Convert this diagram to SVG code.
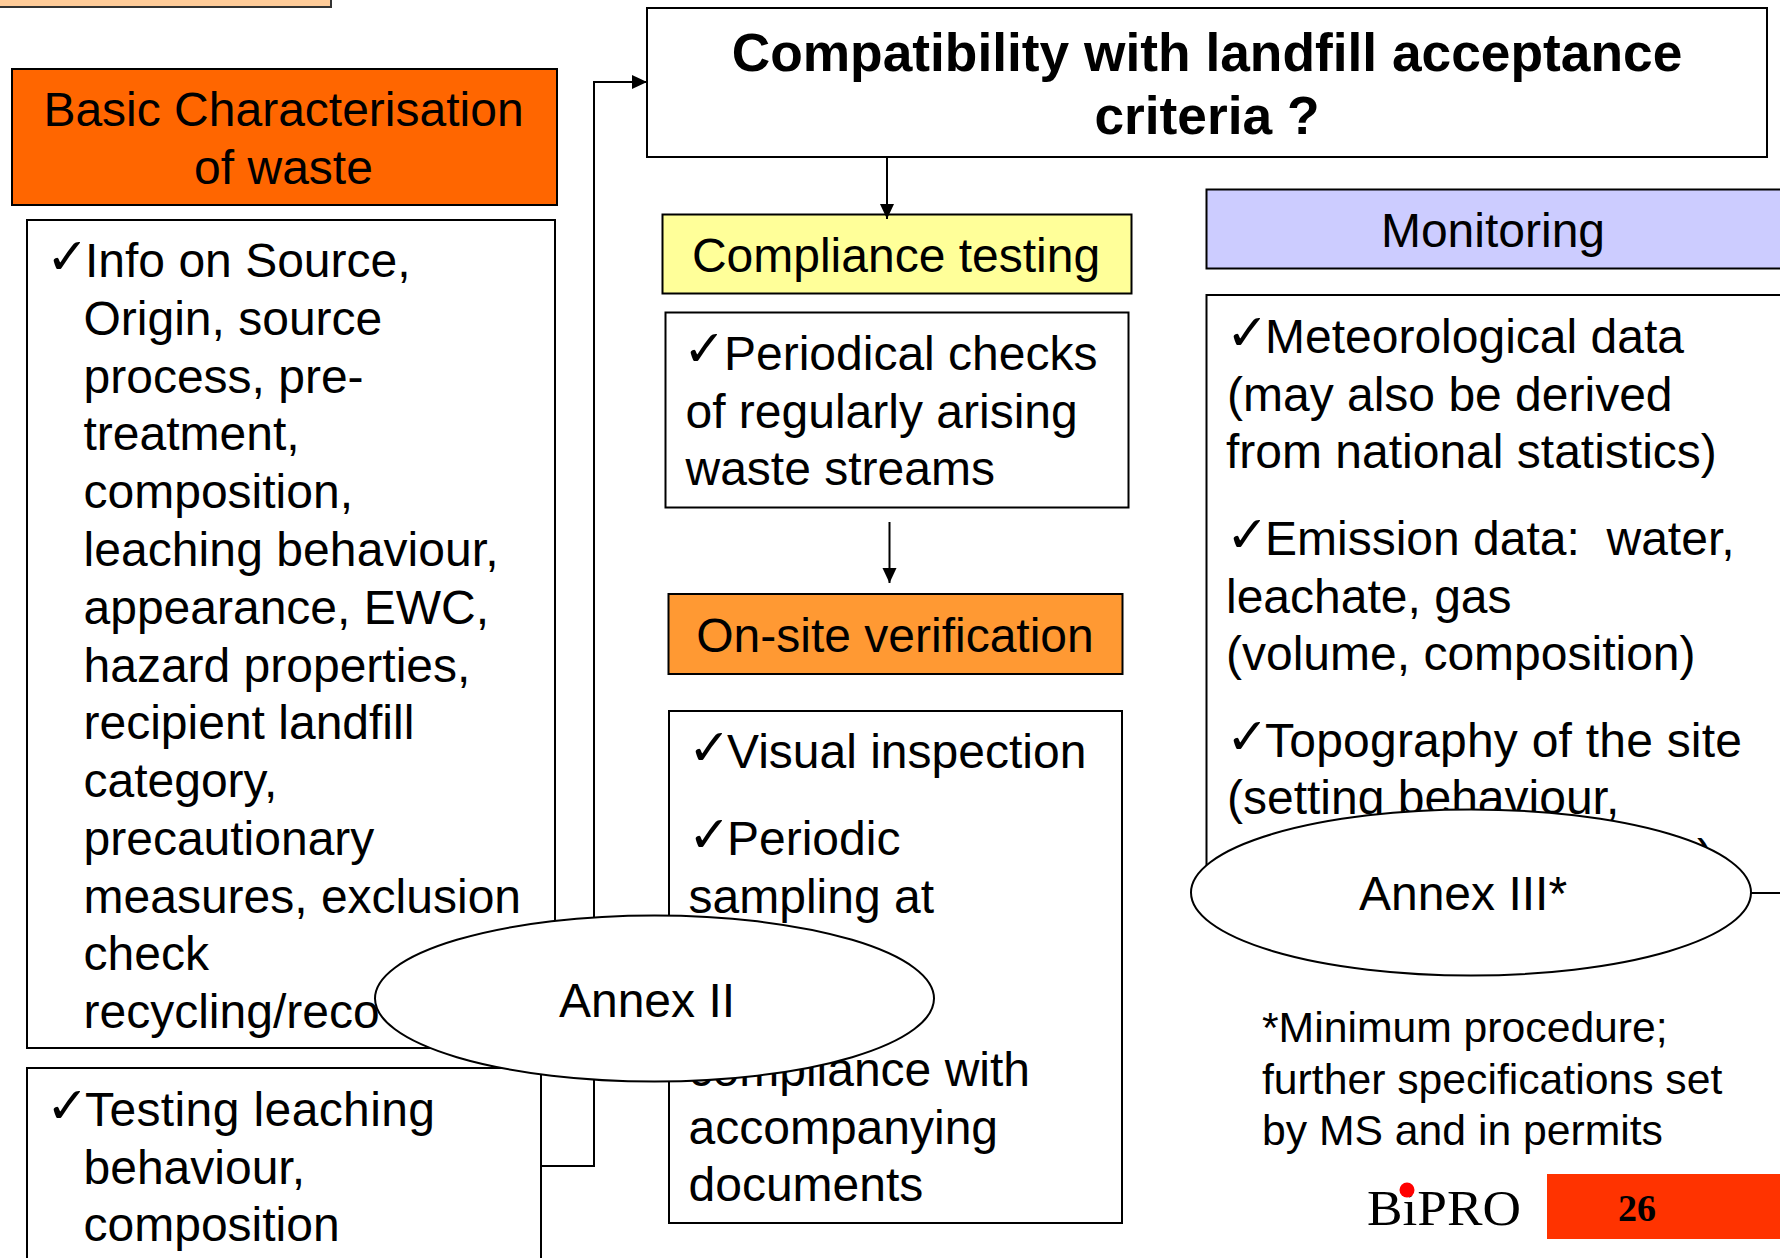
<svg xmlns="http://www.w3.org/2000/svg" width="1780" height="1258" viewBox="0 0 1780 1258">
<style>
text{font-family:"Liberation Sans",Arial,sans-serif;font-size:48px;fill:#000}
.c{text-anchor:middle}
.b{stroke:#000;stroke-width:2;fill:#fff}
.l{stroke:#000;stroke-width:2;fill:none}
.k{font-family:"DejaVu Sans",sans-serif;font-size:51px}
.t{font-weight:bold;font-size:53.3px}
.f{font-size:42.7px}
</style>
<defs><marker id="a" markerUnits="userSpaceOnUse" markerWidth="16" markerHeight="16" refX="15" refY="7" orient="auto"><path d="M0 0L15 7L0 14Z" fill="#000"/></marker></defs>
<rect width="1780" height="1258" fill="#fff"/>
<g id="top-box"><rect x="-5" y="-10" width="336" height="17" fill="#FFCC99" stroke="#333" stroke-width="2"/></g>
<g id="basic"><rect class="b" x="12" y="69" width="545" height="136" style="fill:#FF6600"/><text class="c" x="283.5" y="126">Basic Characterisation</text><text class="c" x="283.5" y="184">of waste</text></g>
<g id="basic-list"><rect class="b" x="27" y="220" width="528" height="828"/>
<text class="k" x="46" y="274">✓</text><text x="85" y="277">Info on Source,</text>
<text x="83.5" y="335">Origin, source</text><text x="83.5" y="393">process, pre-</text><text x="83.5" y="450">treatment,</text><text x="83.5" y="508">composition,</text><text x="83.5" y="566" textLength="415">leaching behaviour,</text><text x="83.5" y="624">appearance, EWC,</text><text x="83.5" y="682">hazard properties,</text><text x="83.5" y="739">recipient landfill</text><text x="83.5" y="797">category,</text><text x="83.5" y="855">precautionary</text><text x="83.5" y="913">measures, exclusion</text><text x="83.5" y="970">check</text><text x="83.5" y="1028">recycling/reco</text></g>
<g id="testing-list"><rect class="b" x="27" y="1068" width="514" height="210"/>
<text class="k" x="46" y="1123">✓</text><text x="85" y="1126" textLength="350">Testing leaching</text><text x="83.5" y="1184">behaviour,</text><text x="83.5" y="1241">composition</text></g>
<g id="periodical"><rect class="b" x="665.5" y="312.5" width="463" height="195"/><text class="k" x="683" y="366">✓</text><text x="724" y="370">Periodical checks</text><text x="685.5" y="428">of regularly arising</text><text x="685.5" y="485">waste streams</text></g>
<g id="compliance"><rect class="b" x="662.5" y="214.5" width="469" height="79" style="fill:#FFFF99"/><text class="c" x="896" y="272">Compliance testing</text></g>
<g id="onsite"><rect class="b" x="668.5" y="594" width="454" height="80" style="fill:#FF9933"/><text class="c" x="895" y="652">On-site verification</text></g>
<g id="visual"><rect class="b" x="669" y="711" width="453" height="512"/><text class="k" x="688" y="765">✓</text><text x="727" y="768">Visual inspection</text><text class="k" x="688" y="852">✓</text><text x="727" y="855">Periodic</text><text x="688.5" y="913">sampling at</text><text x="688.5" y="1086">compliance with</text><text x="688.5" y="1144">accompanying</text><text x="688.5" y="1201">documents</text></g>
<g id="monitoring"><rect class="b" x="1206.5" y="189.5" width="584" height="79" style="fill:#CCCCFF"/><text class="c" x="1493" y="247">Monitoring</text></g>
<g id="monitoring-list"><rect class="b" x="1206.5" y="295" width="584" height="598"/><text class="k" x="1226" y="350">✓</text><text x="1265" y="353">Meteorological data</text><text x="1227" y="411">(may also be derived</text><text x="1226" y="468">from national statistics)</text><text class="k" x="1226" y="552">✓</text><text x="1265" y="555" xml:space="preserve">Emission data:  water,</text><text x="1226" y="613">leachate, gas</text><text x="1226" y="670">(volume, composition)</text><text class="k" x="1226" y="754">✓</text><text x="1265" y="757" textLength="477">Topography of the site</text><text x="1227" y="814">(setting behaviour,</text><text x="1697" y="873">)</text></g>
<g id="connectors"><path class="l" d="M541 1166H594V82H647" marker-end="url(#a)"/><path class="l" d="M887 158V219" marker-end="url(#a)"/><path class="l" d="M889.5 522V583" marker-end="url(#a)"/></g>
<g id="title"><rect class="b" x="647" y="8" width="1120" height="149" style="fill:none"/><text class="c t" x="1207" y="71">Compatibility with landfill acceptance</text><text class="c t" x="1207" y="134">criteria ?</text></g>
<g id="annex2"><ellipse class="b" cx="654.5" cy="998.5" rx="279.5" ry="83"/><text class="c" x="647" y="1017">Annex II</text></g>
<g id="annex3"><ellipse class="b" cx="1471" cy="892.5" rx="280" ry="83"/><text class="c" x="1463" y="910">Annex III*</text></g>
<g id="note"><text class="f" x="1262" y="1042">*Minimum procedure;</text><text class="f" x="1262" y="1094">further specifications set</text><text class="f" x="1262" y="1145">by MS and in permits</text></g>
<g id="logo"><text x="1367" y="1225" textLength="154" lengthAdjust="spacingAndGlyphs" style="font-family:'Liberation Serif',serif;font-size:51px">BiPRO</text><circle cx="1407" cy="1190" r="7.5" fill="#f00"/></g>
<g id="page"><rect x="1547" y="1174" width="233" height="65" fill="#FF3300"/><text class="c" x="1637" y="1221" style="font-family:'Liberation Serif',serif;font-weight:bold;font-size:38px">26</text></g>
</svg>
